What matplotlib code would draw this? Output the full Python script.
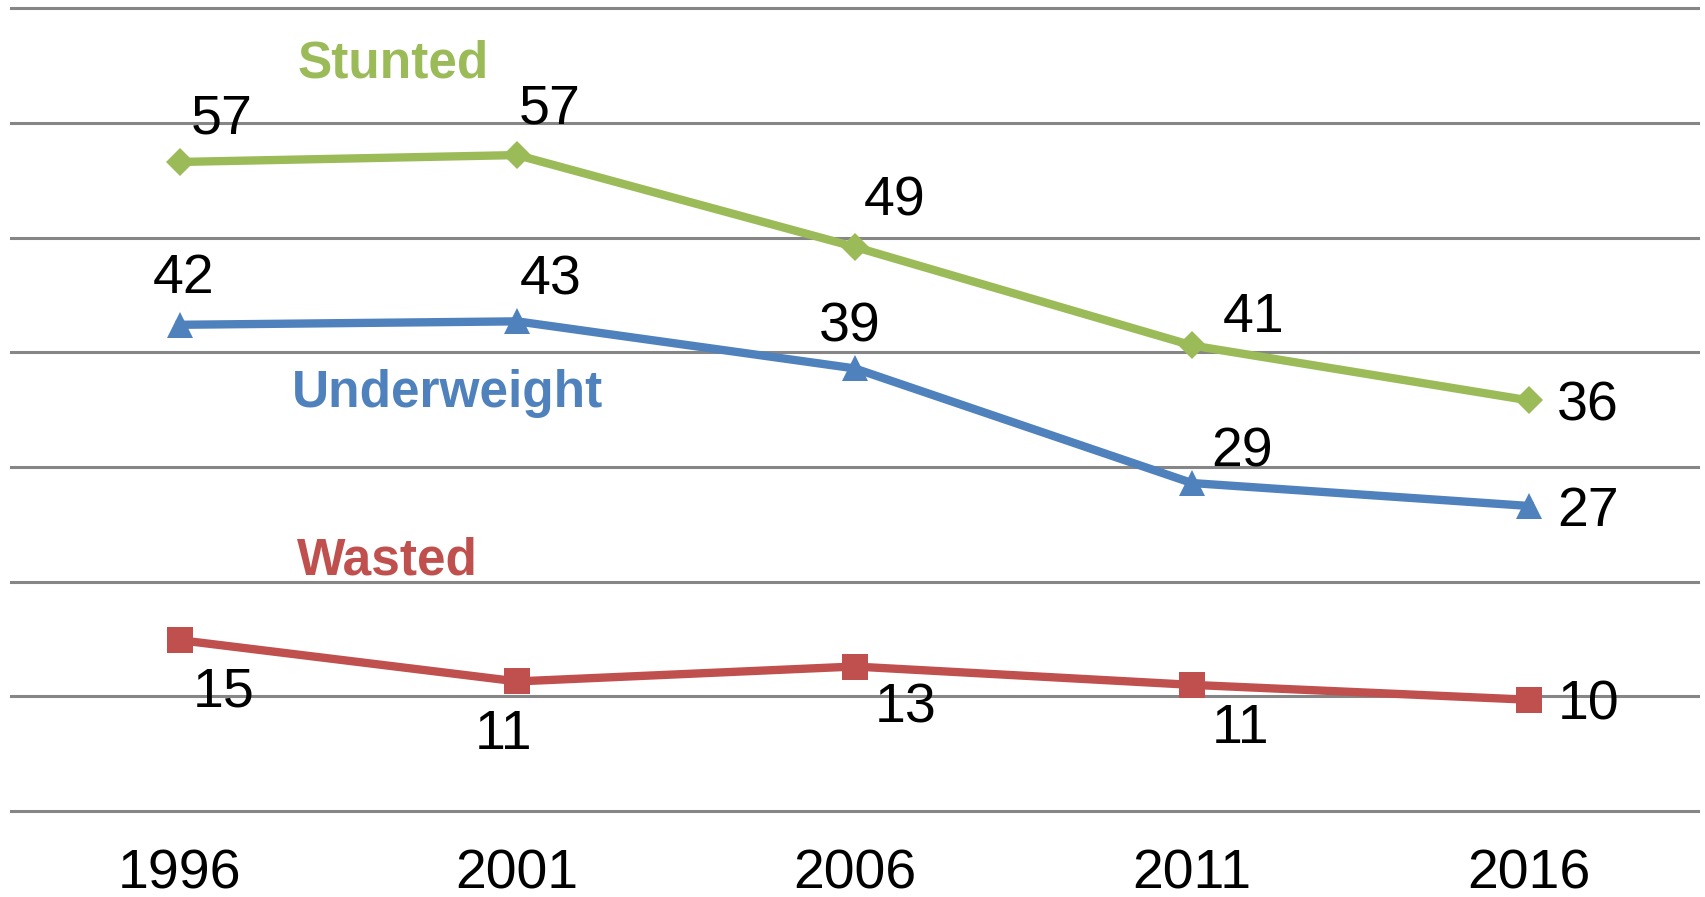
import matplotlib

matplotlib.use("Agg")
import matplotlib.pyplot as plt

plt.rcParams["font.family"] = ["Liberation Sans", "DejaVu Sans"]

years = ["1996", "2001", "2006", "2011", "2016"]
stunted = [56.6, 57.2, 49.2, 40.6, 35.8]
underweight = [42.4, 42.7, 38.6, 28.6, 26.6]
wasted = [14.9, 11.3, 12.6, 11.0, 9.7]
y_ticks = [0, 10, 20, 30, 40, 50, 60, 70]

GREEN = "#9BBB59"
BLUE = "#4F81BD"
RED = "#C0504D"
GRID = "#868686"

# label offsets in pixels (ink centre relative to marker), last point goes to the right
stunted_off = [(42, 48), (33, 52), (40, 51), (62, 33)]
underweight_off = [(4, 52), (34, 47), (-5, 47), (50, 37)]
wasted_off = [(44, -46), (-14, -48), (51, -36), (49, -38)]

W, H = 1705, 897
fig = plt.figure(figsize=(W / 100, H / 100), dpi=100)
ax = fig.add_axes([11 / W, 1 - 811 / H, (1698 - 11) / W, (811 - 8.3) / H])
ax.set_xlim(-0.5, len(years) - 0.5)
ax.set_ylim(0, 70)

for v in y_ticks:
    ax.axhline(v, color=GRID, linewidth=2.2, clip_on=False, zorder=1)

x = list(range(len(years)))
series = [
    (stunted, GREEN, "D", 14, stunted_off),
    (underweight, BLUE, "^", 19, underweight_off),
    (wasted, RED, "s", 18.5, wasted_off),
]
for vals, color, marker, ms, offs in series:
    ax.plot(x, vals, color=color, linewidth=6, marker=marker, markersize=ms,
            markeredgewidth=0, zorder=3, clip_on=False)
    for i, v in enumerate(vals[:-1]):
        dx, dy = offs[i]
        ax.annotate(f"{v:.0f}", (x[i], v), xytext=(dx, dy - 20),
                    textcoords="offset pixels", ha="center", va="baseline",
                    fontsize=40, color="black", zorder=4)
    ax.annotate(f"{vals[-1]:.0f}", (x[-1], vals[-1]), xytext=(28, 0),
                textcoords="offset pixels", ha="left", va="center_baseline",
                fontsize=40, color="black", zorder=4)

ax.text(0.632, 64.0, "Stunted", color=GREEN, fontsize=37, fontweight="bold",
        ha="center", va="baseline")
ax.text(0.795, 35.2, "Underweight", color=BLUE, fontsize=37, fontweight="bold",
        ha="center", va="baseline")
ax.text(0.617, 20.6, "Wasted", color=RED, fontsize=37, fontweight="bold",
        ha="center", va="baseline")

ax.set_xticks(x)
ax.set_xticklabels(years, fontsize=40)
ax.tick_params(axis="x", length=0, pad=27)
ax.set_yticks([])
for s in ax.spines.values():
    s.set_visible(False)

plt.savefig("out.png", dpi=100)
plt.close()
